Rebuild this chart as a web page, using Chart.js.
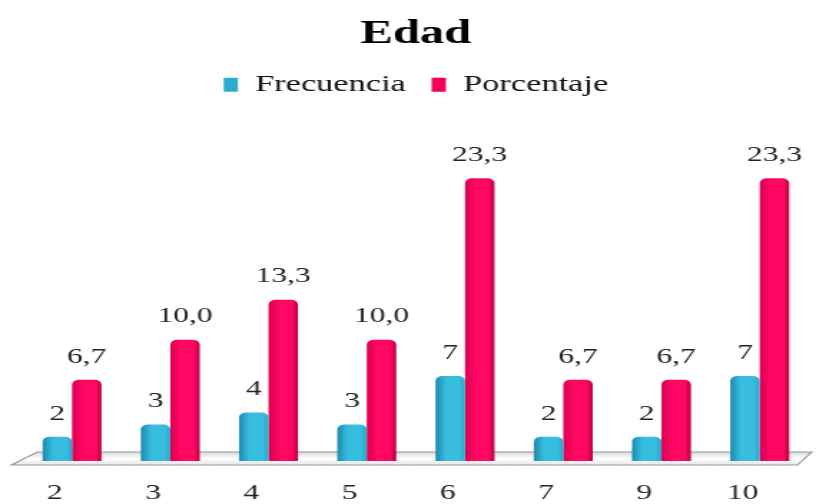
<!DOCTYPE html>
<html>
<head>
<meta charset="utf-8">
<script src="https://cdn.jsdelivr.net/npm/chart.js@4/dist/chart.umd.min.js"></script>
<style>
  html, body { margin: 0; padding: 0; background: #fff; overflow: hidden; }
  /* the original picture is stretched sideways, so the chart is drawn narrow and scaled */
  #wrap { position: absolute; left: 0; top: 0; width: 570px; height: 504px;
          transform: scaleX(1.4316); transform-origin: 0 0; }
  #chart { display: block; }
</style>
</head>
<body>
<div id="wrap"><canvas id="chart" width="570" height="504"></canvas></div>
<script>
const categories = ["2", "3", "4", "5", "6", "7", "9", "10"];
const frecuencia = [2, 3, 4, 3, 7, 2, 2, 7];
const porcentaje = [6.7, 10.0, 13.3, 10.0, 23.3, 6.7, 6.7, 23.3];
const seriesNames = ["Frecuencia", "Porcentaje"];

const SERIF = "'Liberation Serif', 'Times New Roman', serif";
const BLUE = "#2aaccf";
const PINK = "#f2005c";

function fmt(v, decimals) {
    return v.toFixed(decimals).replace(".", ",");
}

// 3d looking floor under the bars
const floorPlugin = {
    id: "floor",
    beforeDatasetsDraw(chart) {
        const { ctx, chartArea } = chart;
        const b = chartArea.bottom;
        ctx.save();
        ctx.beginPath();
        ctx.moveTo(chartArea.left - 8, b + 4);
        ctx.lineTo(chartArea.right - 8, b + 4);
        ctx.lineTo(chartArea.right + 2, b - 9);
        ctx.lineTo(chartArea.left + 10, b - 9);
        ctx.closePath();
        const g = ctx.createLinearGradient(0, b - 9, 0, b + 4);
        g.addColorStop(0, "#d8d8d8");
        g.addColorStop(0.5, "#ffffff");
        g.addColorStop(1, "#e6e6e6");
        ctx.fillStyle = g;
        ctx.fill();
        ctx.strokeStyle = "#9a9a9a";
        ctx.lineWidth = 1.2;
        ctx.stroke();
        ctx.restore();

        // shade each bar across its width
        const stops = [
            ["#1d8aab", "#37bde0", "#2aa6c8"],
            ["#d8004f", "#ff0864", "#b5003f"]
        ];
        chart.data.datasets.forEach((ds, i) => {
            chart.getDatasetMeta(i).data.forEach(bar => {
                const gr = ctx.createLinearGradient(bar.x - bar.width / 2, 0, bar.x + bar.width / 2, 0);
                gr.addColorStop(0, stops[i][0]);
                gr.addColorStop(0.35, stops[i][1]);
                gr.addColorStop(0.8, stops[i][1]);
                gr.addColorStop(1, stops[i][2]);
                bar.options.backgroundColor = gr;
            });
        });
    }
};

// value labels above the bars
const valueLabels = {
    id: "valueLabels",
    afterDatasetsDraw(chart) {
        const { ctx } = chart;
        ctx.save();
        ctx.font = "22px " + SERIF;
        ctx.fillStyle = "#222";
        ctx.textAlign = "center";
        ctx.textBaseline = "bottom";
        chart.data.datasets.forEach((ds, i) => {
            chart.getDatasetMeta(i).data.forEach((bar, j) => {
                ctx.fillText(fmt(ds.data[j], i === 0 ? 0 : 1), bar.x, bar.y - 12);
            });
        });
        ctx.restore();
    }
};

new Chart(document.getElementById("chart"), {
    type: "bar",
    data: {
        labels: categories,
        datasets: [
            { label: seriesNames[0], data: frecuencia, backgroundColor: () => BLUE },
            { label: seriesNames[1], data: porcentaje, backgroundColor: () => PINK }
        ]
    },
    options: {
        responsive: false,
        devicePixelRatio: 1,
        animation: false,
        layout: { padding: { left: 16, right: 5, top: 0, bottom: 0 } },
        datasets: {
            bar: {
                categoryPercentage: 0.6,
                barPercentage: 1.0,
                borderRadius: { topLeft: 5, topRight: 5 },
                borderSkipped: "bottom"
            }
        },
        scales: {
            x: {
                grid: { display: false, drawTicks: false },
                border: { display: false },
                afterFit: s => { s.height = 43; },
                ticks: {
                    padding: 21,
                    labelOffset: -12,
                    color: "#222",
                    font: { family: SERIF, size: 22, lineHeight: 1 }
                }
            },
            y: {
                display: false,
                min: 0,
                max: 29.2
            }
        },
        plugins: {
            title: {
                display: true,
                text: "Edad",
                color: "#000",
                font: { family: SERIF, size: 34, weight: "bold" },
                padding: { top: 14, bottom: 0 }
            },
            legend: {
                position: "top",
                labels: {
                    color: "#111",
                    font: { family: SERIF, size: 24 },
                    boxWidth: 10,
                    boxHeight: 14,
                    padding: 18
                }
            },
            tooltip: { enabled: false }
        }
    },
    plugins: [floorPlugin, valueLabels]
});
</script>
</body>
</html>
